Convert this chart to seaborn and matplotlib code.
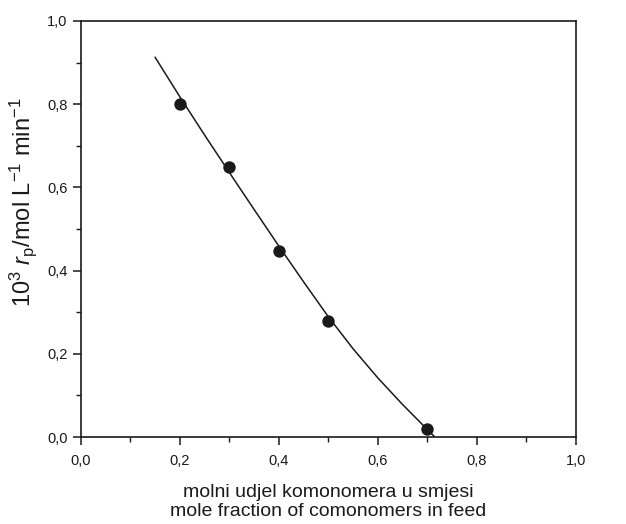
import matplotlib
matplotlib.use("Agg")
import matplotlib.pyplot as plt
import seaborn as sns
import pandas as pd
from matplotlib.ticker import MultipleLocator, FuncFormatter

sns.set_theme(style="white")
plt.rcParams['font.family'] = ['Liberation Sans', 'DejaVu Sans']
plt.rcParams['mathtext.fontset'] = 'custom'
plt.rcParams['mathtext.rm'] = 'Liberation Sans'
plt.rcParams['mathtext.it'] = 'Liberation Sans:italic'

# data points
x_pts = [0.2, 0.3, 0.4, 0.5, 0.7]
y_pts = [0.800, 0.648, 0.447, 0.278, 0.020]
# fitted curve
x_fit = [0.15, 0.2, 0.25, 0.3, 0.35, 0.4, 0.45, 0.5, 0.55, 0.6, 0.65, 0.7, 0.715]
y_fit = [0.913, 0.818, 0.726, 0.636, 0.547, 0.459, 0.373, 0.289, 0.212, 0.142, 0.078, 0.018, 0.0]

pts = pd.DataFrame({"x": x_pts, "y": y_pts})
fit = pd.DataFrame({"x": x_fit, "y": y_fit})

fig = plt.figure(figsize=(6.26, 5.24), dpi=100)
ax = fig.add_axes([0.129, 0.166, 0.791, 0.794])

sns.lineplot(data=fit, x="x", y="y", ax=ax, color="#1a1a1a", linewidth=1.1)
sns.scatterplot(data=pts, x="x", y="y", ax=ax, color="#1a1a1a", s=80,
                edgecolor="#1a1a1a", linewidth=0, zorder=3)

ax.set_xlim(0, 1.0)
ax.set_ylim(0, 1.0)
ax.xaxis.set_major_locator(MultipleLocator(0.2))
ax.xaxis.set_minor_locator(MultipleLocator(0.1))
ax.yaxis.set_major_locator(MultipleLocator(0.2))
ax.yaxis.set_minor_locator(MultipleLocator(0.1))
fmt = FuncFormatter(lambda v, p: f"{v:.1f}".replace(".", ","))
ax.xaxis.set_major_formatter(fmt)
ax.yaxis.set_major_formatter(fmt)

for s in ax.spines.values():
    s.set_color("#1a1a1a")
    s.set_linewidth(1.2)
    s.set_visible(True)

ax.tick_params(axis="both", which="major", direction="out", length=6, width=1.1,
               color="#1a1a1a", labelsize=10.5, labelcolor="#1a1a1a",
               bottom=True, left=True, top=False, right=False)
ax.tick_params(axis="x", which="major", pad=6)
ax.tick_params(axis="both", which="minor", direction="out", length=3.5, width=1.0,
               color="#1a1a1a", bottom=True, left=True, top=False, right=False)

ax.set_xlabel("molni udjel komonomera u smjesi\nmole fraction of comonomers in feed",
              fontsize=14, color="#1a1a1a", labelpad=12, linespacing=1.1)
ax.set_ylabel(r"10$^3$ $r_\mathrm{p}$/mol L$^{-1}$ min$^{-1}$",
              fontsize=17, color="#1a1a1a")
ax.yaxis.set_label_coords(-0.085, 0.565)

fig.savefig("out.png", dpi=100, facecolor="white")
